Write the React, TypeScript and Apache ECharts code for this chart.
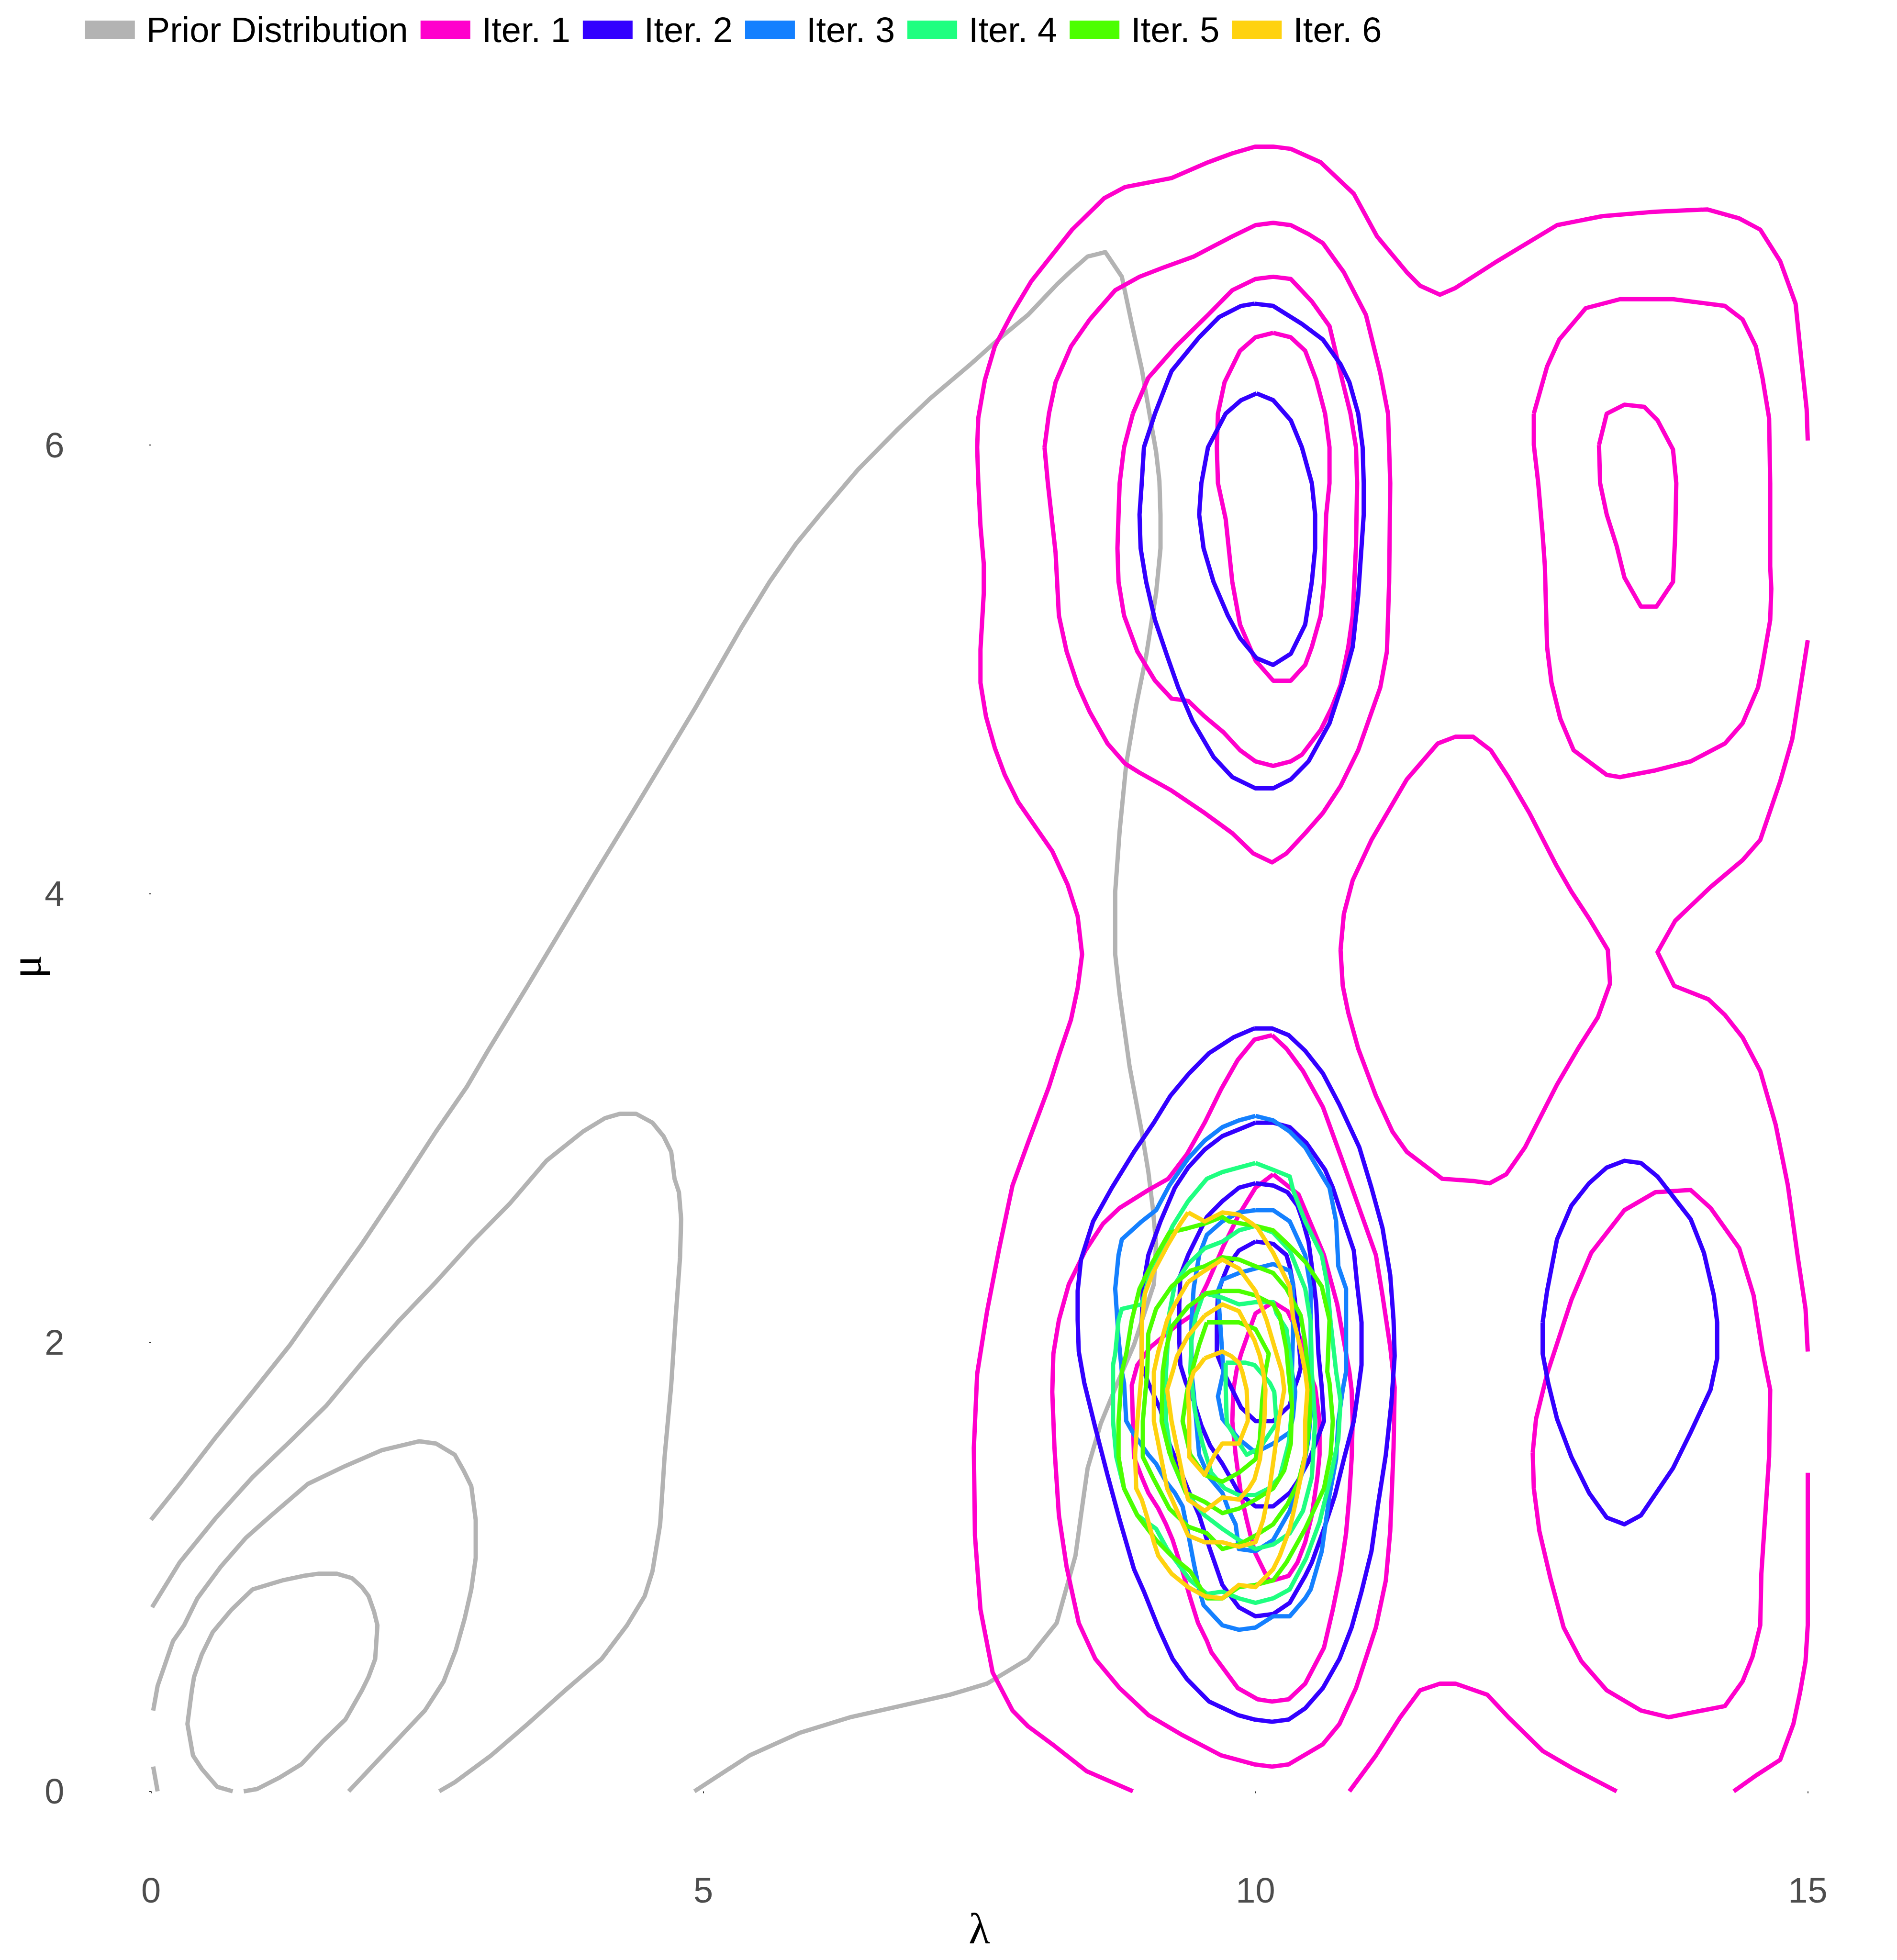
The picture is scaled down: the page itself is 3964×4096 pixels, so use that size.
import React, { useEffect, useRef } from "react";
import * as echarts from "echarts";

type Pt = [number, number];

const xTicks = [0, 5, 10, 15];
const yTicks = [0, 2, 4, 6];
const legendNames = ["Prior Distribution", "Iter. 1", "Iter. 2", "Iter. 3", "Iter. 4", "Iter. 5", "Iter. 6"];
const groupColors = ["#B3B3B3", "#FF00CC", "#3300FF", "#1480FF", "#1FFF80", "#4CFF00", "#FFD20F"];

// ---- Prior distribution contours ----
const prior1: Pt[] = [[0.00,1.21],[0.26,1.37],[0.59,1.58],[0.92,1.78],[1.26,1.99],[1.59,2.22],[1.91,2.44],[2.25,2.69],[2.58,2.94],[2.86,3.14],[3.05,3.30],[3.41,3.59],[4.02,4.09],[4.38,4.38],[4.93,4.83],[5.35,5.19],[5.60,5.39],[5.84,5.56],[6.09,5.71],[6.40,5.89],[6.76,6.07],[7.06,6.21],[7.42,6.36],[7.67,6.47],[7.94,6.58],[8.21,6.72],[8.34,6.78],[8.48,6.84],[8.64,6.86],[8.79,6.75],[8.88,6.54],[8.97,6.34],[9.04,6.14],[9.10,5.97],[9.13,5.84],[9.14,5.69],[9.14,5.54],[9.10,5.34],[9.01,5.06],[8.92,4.84],[8.83,4.58],[8.77,4.28],[8.73,4.01],[8.73,3.73],[8.77,3.55],[8.86,3.23],[8.97,2.94],[9.03,2.76],[9.07,2.60],[9.10,2.44],[9.08,2.26],[8.90,1.99],[8.75,1.82],[8.60,1.64],[8.48,1.44],[8.42,1.23],[8.37,1.05],[8.20,0.75],[7.94,0.59],[7.57,0.48],[7.23,0.43],[6.78,0.38],[6.33,0.33],[5.87,0.26],[5.42,0.16],[4.92,0.00]];
const prior2: Pt[] = [[0.01,0.82],[0.26,1.02],[0.59,1.22],[0.92,1.40],[1.26,1.56],[1.59,1.72],[1.91,1.91],[2.25,2.10],[2.58,2.27],[2.91,2.45],[3.25,2.62],[3.58,2.81],[3.91,2.94],[4.11,3.00],[4.25,3.02],[4.39,3.02],[4.54,2.98],[4.64,2.92],[4.71,2.85],[4.74,2.73],[4.78,2.67],[4.80,2.55],[4.79,2.38],[4.75,2.11],[4.71,1.81],[4.65,1.49],[4.61,1.19],[4.54,0.98],[4.47,0.87],[4.31,0.74],[4.08,0.59],[3.75,0.45],[3.41,0.30],[3.08,0.16],[2.75,0.04],[2.61,0.00]];
const prior3: Pt[] = [[0.02,0.36],[0.06,0.47],[0.13,0.57],[0.20,0.67],[0.30,0.74],[0.42,0.86],[0.63,1.00],[0.86,1.13],[1.09,1.23],[1.42,1.37],[1.76,1.45],[2.09,1.52],[2.43,1.56],[2.58,1.55],[2.75,1.50],[2.83,1.43],[2.90,1.36],[2.94,1.21],[2.94,1.04],[2.90,0.90],[2.84,0.77],[2.76,0.63],[2.65,0.49],[2.48,0.36],[2.25,0.24],[2.02,0.12],[1.79,0.00]];
const prior4: Pt[] = [[0.74,0.00],[0.60,0.02],[0.46,0.10],[0.38,0.16],[0.33,0.30],[0.37,0.45],[0.39,0.51],[0.46,0.61],[0.56,0.71],[0.73,0.81],[0.92,0.90],[1.19,0.94],[1.38,0.96],[1.52,0.97],[1.68,0.97],[1.82,0.95],[1.91,0.91],[1.97,0.87],[2.02,0.80],[2.05,0.74],[2.03,0.59],[1.97,0.51],[1.91,0.45],[1.76,0.32],[1.55,0.22],[1.36,0.12],[1.16,0.06],[0.96,0.01],[0.84,0.00]];
const prior5: Pt[] = [[0.02,0.11],[0.06,0.00]];

// ---- Iteration 1 ----
const iter1a: Pt[] = [[8.89,0.00],[8.47,0.09],[8.16,0.21],[7.94,0.29],[7.80,0.36],[7.62,0.53],[7.51,0.81],[7.46,1.14],[7.45,1.53],[7.48,1.86],[7.57,2.14],[7.68,2.42],[7.80,2.70],[7.94,2.89],[8.13,3.14],[8.22,3.28],[8.33,3.44],[8.39,3.58],[8.43,3.73],[8.39,3.90],[8.30,4.04],[8.16,4.19],[7.85,4.41],[7.73,4.53],[7.64,4.65],[7.56,4.79],[7.51,4.94],[7.51,5.09],[7.54,5.34],[7.54,5.47],[7.51,5.64],[7.49,5.84],[7.48,5.99],[7.49,6.12],[7.55,6.29],[7.64,6.44],[7.80,6.59],[7.97,6.73],[8.34,6.96],[8.63,7.10],[8.82,7.15],[9.24,7.19],[9.57,7.26],[9.79,7.30],[10.00,7.33],[10.16,7.33],[10.32,7.32],[10.59,7.26],[10.89,7.12],[11.10,6.93],[11.37,6.77],[11.49,6.71],[11.67,6.67],[11.81,6.70],[12.19,6.82],[12.73,6.98],[13.14,7.02],[13.62,7.04],[14.09,7.05],[14.38,7.01],[14.57,6.96],[14.75,6.82],[14.89,6.63],[14.94,6.39],[14.99,6.16],[15.00,6.02]];
const iter1b: Pt[] = [[15.00,5.13],[14.94,4.94],[14.86,4.69],[14.75,4.50],[14.57,4.24],[14.41,4.15],[14.12,4.03],[13.80,3.88],[13.64,3.74],[13.79,3.59],[14.10,3.53],[14.25,3.46],[14.41,3.36],[14.57,3.21],[14.71,2.97],[14.82,2.70],[14.91,2.38],[14.98,2.15],[15.00,1.96]];
const iter1c: Pt[] = [[15.00,1.42],[15.00,0.74],[14.98,0.58],[14.93,0.44],[14.87,0.30],[14.75,0.14],[14.53,0.07],[14.33,0.00]];
const iter1d: Pt[] = [[10.85,0.00],[11.09,0.16],[11.31,0.33],[11.49,0.45],[11.67,0.48],[11.81,0.48],[12.10,0.43],[12.29,0.33],[12.60,0.18],[12.88,0.10],[13.27,0.00]];
const iter1e: Pt[] = [[8.09,5.99],[8.13,6.14],[8.19,6.28],[8.33,6.44],[8.50,6.56],[8.73,6.69],[8.95,6.75],[9.16,6.79],[9.44,6.84],[9.79,6.93],[10.00,6.98],[10.16,6.99],[10.32,6.98],[10.48,6.94],[10.61,6.90],[10.80,6.77],[11.00,6.58],[11.13,6.32],[11.20,6.14],[11.22,5.83],[11.21,5.39],[11.19,5.08],[11.13,4.92],[11.03,4.78],[10.93,4.64],[10.77,4.48],[10.61,4.36],[10.45,4.27],[10.28,4.18],[10.15,4.14],[9.98,4.18],[9.79,4.27],[9.54,4.36],[9.24,4.46],[8.95,4.54],[8.82,4.58],[8.66,4.67],[8.50,4.81],[8.39,4.93],[8.29,5.08],[8.22,5.24],[8.19,5.52],[8.12,5.83],[8.09,5.99]];
const iter1f: Pt[] = [[8.89,6.14],[8.81,5.99],[8.77,5.83],[8.76,5.69],[8.75,5.54],[8.76,5.39],[8.81,5.24],[8.93,5.08],[9.09,4.95],[9.24,4.87],[9.39,4.86],[9.54,4.79],[9.71,4.72],[9.86,4.64],[10.00,4.59],[10.16,4.57],[10.32,4.59],[10.42,4.62],[10.59,4.73],[10.69,4.83],[10.77,4.93],[10.84,5.10],[10.88,5.24],[10.91,5.55],[10.92,5.83],[10.91,5.99],[10.86,6.14],[10.79,6.28],[10.67,6.53],[10.51,6.64],[10.32,6.74],[10.16,6.75],[10.00,6.74],[9.79,6.69],[9.57,6.58],[9.28,6.44],[9.03,6.30],[8.89,6.14]];
const iter1g: Pt[] = [[10.16,6.50],[10.32,6.48],[10.45,6.42],[10.55,6.29],[10.63,6.14],[10.67,5.99],[10.67,5.83],[10.64,5.69],[10.62,5.39],[10.59,5.24],[10.51,5.10],[10.45,5.02],[10.32,4.95],[10.16,4.95],[10.00,5.04],[9.86,5.20],[9.79,5.39],[9.73,5.67],[9.66,5.83],[9.65,5.99],[9.66,6.14],[9.72,6.28],[9.86,6.42],[10.00,6.48],[10.16,6.50]];
const iter1h: Pt[] = [[12.52,6.14],[12.64,6.35],[12.75,6.47],[12.99,6.61],[13.30,6.65],[13.78,6.65],[14.25,6.62],[14.41,6.56],[14.53,6.44],[14.59,6.30],[14.65,6.12],[14.66,5.83],[14.66,5.46],[14.67,5.36],[14.66,5.22],[14.59,5.02],[14.55,4.92],[14.41,4.76],[14.25,4.67],[13.94,4.59],[13.62,4.55],[13.30,4.52],[13.18,4.53],[12.88,4.64],[12.76,4.78],[12.68,4.94],[12.64,5.10],[12.62,5.46],[12.60,5.60],[12.56,5.83],[12.52,6.00],[12.52,6.14]];
const iter1i: Pt[] = [[13.11,6.00],[13.18,6.14],[13.34,6.18],[13.52,6.17],[13.64,6.11],[13.78,5.98],[13.81,5.83],[13.80,5.60],[13.78,5.39],[13.63,5.28],[13.49,5.28],[13.34,5.41],[13.27,5.55],[13.18,5.69],[13.12,5.83],[13.11,6.00]];
const iter1j: Pt[] = [[10.77,3.75],[10.80,3.91],[10.88,4.06],[11.05,4.24],[11.37,4.51],[11.65,4.67],[11.81,4.70],[11.97,4.70],[12.13,4.64],[12.29,4.52],[12.48,4.36],[12.72,4.13],[12.86,4.01],[13.02,3.89],[13.19,3.75],[13.21,3.60],[13.10,3.45],[12.92,3.31],[12.73,3.15],[12.44,2.87],[12.27,2.75],[12.12,2.71],[11.97,2.72],[11.69,2.73],[11.37,2.85],[11.24,2.94],[11.09,3.10],[10.93,3.31],[10.84,3.47],[10.79,3.59],[10.77,3.75]];
const iter1k: Pt[] = [[12.51,1.51],[12.54,1.66],[12.64,1.86],[12.86,2.19],[13.04,2.40],[13.34,2.59],[13.62,2.67],[13.94,2.68],[14.12,2.60],[14.38,2.42],[14.51,2.21],[14.59,1.96],[14.66,1.79],[14.65,1.49],[14.58,0.97],[14.57,0.74],[14.50,0.60],[14.41,0.49],[14.25,0.38],[13.94,0.35],[13.74,0.33],[13.49,0.36],[13.18,0.45],[12.95,0.58],[12.79,0.73],[12.67,0.95],[12.57,1.16],[12.52,1.35],[12.51,1.51]];
const iter1l: Pt[] = [[10.15,3.37],[10.28,3.31],[10.43,3.21],[10.61,3.05],[10.78,2.82],[10.96,2.57],[11.09,2.39],[11.15,2.21],[11.22,1.98],[11.26,1.80],[11.25,1.53],[11.22,1.16],[11.18,0.94],[11.09,0.73],[10.91,0.46],[10.76,0.30],[10.61,0.21],[10.30,0.12],[10.15,0.11],[9.99,0.12],[9.69,0.16],[9.34,0.25],[9.03,0.34],[8.77,0.46],[8.55,0.59],[8.40,0.75],[8.29,1.00],[8.22,1.23],[8.18,1.53],[8.16,1.78],[8.17,1.95],[8.22,2.10],[8.31,2.26],[8.46,2.41],[8.62,2.53],[8.77,2.60],[9.03,2.68],[9.21,2.73],[9.38,2.84],[9.54,2.98],[9.69,3.13],[9.84,3.26],[9.99,3.35],[10.15,3.37]];
const iter1m: Pt[] = [[10.16,2.75],[10.39,2.66],[10.62,2.39],[10.74,2.17],[10.85,1.87],[10.87,1.79],[10.88,1.65],[10.87,1.48],[10.85,1.32],[10.82,1.15],[10.77,0.98],[10.70,0.81],[10.62,0.64],[10.45,0.48],[10.30,0.41],[10.15,0.40],[10.02,0.41],[9.84,0.46],[9.60,0.62],[9.56,0.67],[9.48,0.75],[9.41,0.86],[9.34,0.98],[9.25,1.12],[9.19,1.19],[9.12,1.26],[9.03,1.33],[8.97,1.40],[8.90,1.49],[8.89,1.65],[8.88,1.81],[8.93,1.90],[9.05,1.98],[9.27,2.07],[9.42,2.12],[9.56,2.26],[9.71,2.43],[9.85,2.57],[10.00,2.69],[10.16,2.75]];
const iter1n: Pt[] = [[10.16,2.18],[10.29,2.14],[10.36,2.07],[10.43,1.99],[10.48,1.88],[10.54,1.80],[10.58,1.65],[10.58,1.50],[10.56,1.40],[10.51,1.23],[10.45,1.11],[10.38,1.02],[10.30,0.96],[10.16,0.94],[10.12,0.94],[10.00,1.06],[9.97,1.11],[9.92,1.21],[9.87,1.32],[9.82,1.50],[9.79,1.65],[9.80,1.79],[9.83,1.88],[9.87,1.95],[9.97,2.09],[10.00,2.13],[10.16,2.18]];

// ---- Iteration 2 ----
const iter2a: Pt[] = [[9.99,6.63],[9.87,6.62],[9.67,6.57],[9.49,6.48],[9.24,6.33],[9.20,6.28],[9.09,6.14],[8.99,5.99],[8.97,5.83],[8.95,5.69],[8.96,5.54],[9.01,5.39],[9.09,5.22],[9.20,5.06],[9.30,4.92],[9.43,4.77],[9.62,4.61],[9.79,4.52],[10.00,4.47],[10.16,4.47],[10.32,4.51],[10.48,4.59],[10.67,4.76],[10.79,4.94],[10.88,5.10],[10.93,5.33],[10.98,5.69],[10.98,5.83],[10.97,5.99],[10.93,6.14],[10.85,6.28],[10.77,6.36],[10.61,6.47],[10.42,6.54],[10.16,6.62],[9.99,6.63]];
const iter2b: Pt[] = [[10.01,6.23],[9.87,6.20],[9.73,6.14],[9.57,5.99],[9.51,5.83],[9.49,5.69],[9.53,5.54],[9.62,5.39],[9.75,5.24],[9.86,5.14],[10.01,5.05],[10.16,5.02],[10.32,5.07],[10.45,5.20],[10.51,5.39],[10.54,5.54],[10.54,5.69],[10.51,5.83],[10.42,5.99],[10.32,6.11],[10.16,6.20],[10.01,6.23]];
const iter2c: Pt[] = [[12.60,2.09],[12.64,2.23],[12.73,2.46],[12.86,2.61],[13.02,2.71],[13.18,2.78],[13.34,2.81],[13.49,2.80],[13.64,2.74],[13.94,2.55],[14.06,2.40],[14.15,2.21],[14.18,2.09],[14.18,1.93],[14.12,1.79],[13.94,1.60],[13.78,1.44],[13.49,1.23],[13.34,1.19],[13.18,1.22],[13.02,1.33],[12.86,1.49],[12.73,1.66],[12.65,1.82],[12.60,1.95],[12.60,2.09]];
const iter2d: Pt[] = [[9.99,3.40],[10.15,3.40],[10.30,3.37],[10.45,3.30],[10.61,3.20],[10.76,3.06],[10.94,2.87],[11.05,2.69],[11.15,2.51],[11.22,2.30],[11.25,2.10],[11.26,1.94],[11.23,1.73],[11.18,1.50],[11.11,1.28],[11.05,1.07],[10.96,0.89],[10.87,0.73],[10.76,0.59],[10.61,0.46],[10.45,0.37],[10.30,0.32],[10.15,0.31],[9.99,0.32],[9.84,0.34],[9.58,0.40],[9.38,0.50],[9.25,0.59],[9.12,0.73],[8.99,0.89],[8.90,0.99],[8.77,1.21],[8.66,1.41],[8.55,1.62],[8.45,1.82],[8.40,1.96],[8.39,2.10],[8.39,2.23],[8.42,2.37],[8.53,2.54],[8.70,2.69],[8.90,2.85],[9.08,2.98],[9.23,3.10],[9.40,3.20],[9.58,3.29],[9.80,3.36],[9.99,3.40]];
const iter2e: Pt[] = [[10.00,2.98],[10.16,2.98],[10.31,2.96],[10.46,2.89],[10.63,2.77],[10.70,2.69],[10.80,2.54],[10.89,2.41],[10.92,2.26],[10.96,2.09],[10.96,1.90],[10.93,1.79],[10.89,1.65],[10.80,1.48],[10.72,1.32],[10.62,1.17],[10.51,1.02],[10.45,0.96],[10.31,0.84],[10.16,0.79],[10.00,0.78],[9.85,0.82],[9.70,0.92],[9.58,1.09],[9.49,1.23],[9.41,1.32],[9.22,1.55],[9.14,1.70],[9.03,1.82],[8.97,1.90],[8.97,2.09],[8.98,2.24],[9.03,2.39],[9.14,2.54],[9.27,2.69],[9.39,2.78],[9.54,2.86],[9.70,2.92],[9.85,2.95],[10.00,2.98]];
const iter2f: Pt[] = [[10.00,2.71],[10.16,2.70],[10.29,2.67],[10.38,2.61],[10.43,2.54],[10.48,2.45],[10.51,2.34],[10.55,2.17],[10.57,1.95],[10.60,1.80],[10.62,1.65],[10.56,1.57],[10.48,1.47],[10.38,1.38],[10.31,1.33],[10.16,1.27],[10.00,1.27],[9.85,1.33],[9.70,1.46],[9.59,1.54],[9.51,1.63],[9.44,1.74],[9.37,1.82],[9.32,1.90],[9.31,2.01],[9.31,2.17],[9.32,2.30],[9.39,2.39],[9.47,2.47],[9.56,2.56],[9.70,2.63],[9.85,2.69],[10.00,2.71]];
const iter2g: Pt[] = [[10.00,2.45],[10.16,2.44],[10.28,2.39],[10.31,2.34],[10.34,2.26],[10.38,2.09],[10.41,1.89],[10.39,1.85],[10.34,1.78],[10.31,1.72],[10.16,1.65],[10.00,1.65],[9.87,1.71],[9.73,1.85],[9.65,1.95],[9.65,2.09],[9.66,2.22],[9.70,2.28],[9.75,2.34],[9.82,2.39],[9.85,2.41],[10.00,2.45]];

// ---- Iteration 3 ----
const iter3a: Pt[] = [[10.00,3.01],[10.16,2.99],[10.31,2.94],[10.45,2.87],[10.62,2.73],[10.67,2.69],[10.73,2.54],[10.75,2.34],[10.82,2.24],[10.82,1.87],[10.79,1.79],[10.75,1.65],[10.73,1.48],[10.67,1.32],[10.60,1.07],[10.50,0.90],[10.45,0.86],[10.31,0.78],[10.16,0.78],[10.00,0.73],[9.85,0.72],[9.70,0.74],[9.53,0.83],[9.49,0.90],[9.44,1.02],[9.39,1.15],[9.34,1.27],[9.27,1.33],[9.19,1.38],[9.10,1.46],[9.03,1.50],[8.90,1.59],[8.83,1.65],[8.81,1.82],[8.79,1.87],[8.76,2.02],[8.73,2.24],[8.76,2.39],[8.79,2.46],[8.97,2.54],[9.10,2.59],[9.22,2.70],[9.39,2.82],[9.54,2.90],[9.70,2.96],[9.85,2.99],[10.00,3.01]];
const iter3b: Pt[] = [[10.00,2.59],[10.16,2.59],[10.31,2.54],[10.45,2.39],[10.50,2.24],[10.50,1.87],[10.51,1.74],[10.48,1.57],[10.43,1.43],[10.31,1.25],[10.16,1.12],[10.00,1.07],[9.85,1.08],[9.82,1.19],[9.76,1.25],[9.70,1.33],[9.58,1.40],[9.49,1.50],[9.44,1.78],[9.42,1.87],[9.42,2.09],[9.44,2.24],[9.49,2.39],[9.56,2.48],[9.70,2.54],[9.85,2.58],[10.00,2.59]];
const iter3c: Pt[] = [[10.00,2.33],[10.16,2.35],[10.31,2.32],[10.34,2.26],[10.34,2.06],[10.33,1.87],[10.36,1.78],[10.34,1.67],[10.31,1.60],[10.16,1.55],[10.00,1.51],[9.85,1.57],[9.70,1.66],[9.66,1.76],[9.71,1.87],[9.68,2.09],[9.66,2.23],[9.70,2.28],[9.85,2.31],[10.00,2.33]];

// ---- Iteration 4 ----
const iter4a: Pt[] = [[10.00,2.80],[10.16,2.77],[10.31,2.74],[10.34,2.68],[10.45,2.54],[10.60,2.39],[10.65,2.26],[10.68,2.09],[10.73,1.87],[10.77,1.74],[10.75,1.57],[10.68,1.40],[10.58,1.20],[10.46,1.04],[10.31,0.90],[10.16,0.86],[10.00,0.84],[9.85,0.86],[9.70,0.89],[9.56,0.88],[9.41,0.94],[9.20,1.08],[9.10,1.17],[8.93,1.23],[8.81,1.35],[8.74,1.49],[8.71,1.65],[8.71,1.90],[8.73,1.95],[8.76,2.10],[8.79,2.15],[8.97,2.17],[9.03,2.28],[9.15,2.41],[9.25,2.52],[9.39,2.63],[9.56,2.73],[9.70,2.76],[9.85,2.78],[10.00,2.80]];
const iter4b: Pt[] = [[10.00,2.52],[10.16,2.49],[10.31,2.41],[10.45,2.24],[10.50,2.09],[10.51,1.87],[10.54,1.65],[10.51,1.40],[10.43,1.25],[10.31,1.15],[10.16,1.10],[10.00,1.08],[9.85,1.12],[9.70,1.17],[9.54,1.23],[9.37,1.33],[9.24,1.48],[9.19,1.65],[9.19,1.87],[9.22,2.13],[9.27,2.26],[9.39,2.35],[9.54,2.42],[9.70,2.45],[9.85,2.50],[10.00,2.52]];
const iter4c: Pt[] = [[9.53,2.22],[9.70,2.20],[9.85,2.17],[10.00,2.18],[10.16,2.18],[10.19,2.13],[10.28,2.06],[10.33,1.87],[10.33,1.70],[10.30,1.55],[10.22,1.40],[10.12,1.35],[10.00,1.32],[9.85,1.32],[9.72,1.35],[9.60,1.42],[9.52,1.55],[9.45,1.70],[9.41,1.87],[9.42,2.01],[9.46,2.12],[9.53,2.22]];
const iter4d: Pt[] = [[9.73,1.91],[9.91,1.91],[9.99,1.90],[10.13,1.82],[10.17,1.78],[10.19,1.64],[10.04,1.53],[9.92,1.50],[9.84,1.56],[9.74,1.64],[9.73,1.80],[9.73,1.91]];

// ---- Iteration 5 ----
const iter5a: Pt[] = [[10.00,2.52],[10.16,2.50],[10.31,2.43],[10.45,2.36],[10.60,2.25],[10.67,2.10],[10.65,1.87],[10.67,1.82],[10.70,1.65],[10.68,1.50],[10.62,1.35],[10.45,1.17],[10.28,1.02],[10.16,0.94],[10.00,0.92],[9.85,0.91],[9.70,0.86],[9.56,0.86],[9.41,0.98],[9.24,1.05],[9.10,1.12],[8.93,1.23],[8.81,1.35],[8.76,1.49],[8.76,1.65],[8.79,1.87],[8.83,1.95],[8.88,2.10],[8.95,2.24],[9.07,2.36],[9.22,2.49],[9.39,2.51],[9.54,2.53],[9.70,2.56],[9.76,2.54],[10.00,2.52]];
const iter5b: Pt[] = [[10.00,2.34],[10.16,2.31],[10.28,2.24],[10.41,2.12],[10.45,2.00],[10.49,1.80],[10.49,1.65],[10.46,1.52],[10.39,1.38],[10.29,1.28],[10.16,1.19],[10.00,1.14],[9.85,1.10],[9.70,1.08],[9.56,1.15],[9.39,1.18],[9.22,1.26],[9.08,1.39],[8.98,1.49],[8.98,1.65],[9.02,1.87],[9.03,2.04],[9.10,2.15],[9.24,2.25],[9.41,2.32],[9.54,2.34],[9.70,2.38],[9.85,2.37],[10.00,2.34]];
const iter5c: Pt[] = [[10.00,2.21],[10.16,2.17],[10.22,2.12],[10.28,1.97],[10.30,1.86],[10.33,1.72],[10.32,1.55],[10.26,1.43],[10.16,1.35],[10.00,1.30],[9.85,1.26],[9.70,1.24],[9.54,1.29],[9.37,1.33],[9.22,1.51],[9.15,1.65],[9.16,1.87],[9.19,1.97],[9.24,2.07],[9.39,2.16],[9.56,2.22],[9.70,2.23],[9.85,2.23],[10.00,2.21]];
const iter5d: Pt[] = [[9.56,2.09],[9.70,2.09],[9.85,2.09],[10.00,2.06],[10.12,1.95],[10.09,1.87],[10.06,1.74],[10.04,1.57],[10.00,1.48],[9.85,1.42],[9.70,1.38],[9.54,1.41],[9.41,1.50],[9.34,1.65],[9.38,1.78],[9.44,1.90],[9.49,1.99],[9.56,2.09]];

// ---- Iteration 6 ----
const iter6a: Pt[] = [[9.39,2.58],[9.54,2.54],[9.70,2.58],[9.85,2.57],[9.97,2.53],[10.02,2.51],[10.16,2.40],[10.31,2.25],[10.34,2.11],[10.41,1.97],[10.45,1.87],[10.47,1.79],[10.45,1.65],[10.45,1.50],[10.41,1.40],[10.36,1.28],[10.31,1.17],[10.22,1.05],[10.16,0.99],[10.00,0.91],[9.85,0.92],[9.70,0.86],[9.54,0.87],[9.39,0.91],[9.24,0.97],[9.12,1.05],[9.08,1.11],[9.02,1.22],[8.97,1.30],[8.92,1.35],[8.91,1.50],[8.93,1.65],[8.97,1.87],[8.97,2.09],[9.00,2.22],[9.07,2.31],[9.20,2.43],[9.32,2.53],[9.39,2.58]];
const iter6b: Pt[] = [[9.39,2.27],[9.54,2.32],[9.70,2.37],[9.85,2.33],[10.00,2.23],[10.10,2.10],[10.19,1.95],[10.24,1.87],[10.26,1.79],[10.21,1.65],[10.17,1.50],[10.13,1.36],[10.07,1.21],[10.00,1.11],[9.85,1.09],[9.70,1.11],[9.54,1.11],[9.39,1.14],[9.29,1.25],[9.20,1.35],[9.14,1.50],[9.08,1.65],[9.08,1.79],[9.08,1.87],[9.12,1.96],[9.15,2.01],[9.20,2.10],[9.27,2.17],[9.39,2.27]];
const iter6c: Pt[] = [[9.54,2.12],[9.70,2.17],[9.85,2.14],[9.99,2.01],[10.04,1.94],[10.07,1.87],[10.09,1.79],[10.08,1.65],[10.04,1.48],[9.99,1.39],[9.94,1.35],[9.85,1.30],[9.70,1.31],[9.54,1.25],[9.39,1.30],[9.36,1.36],[9.31,1.48],[9.24,1.65],[9.20,1.79],[9.25,1.87],[9.29,1.94],[9.39,2.03],[9.54,2.12]];
const iter6d: Pt[] = [[9.54,1.93],[9.70,1.96],[9.78,1.94],[9.85,1.91],[9.88,1.87],[9.92,1.79],[9.93,1.65],[9.85,1.55],[9.70,1.55],[9.63,1.50],[9.54,1.41],[9.40,1.49],[9.40,1.65],[9.39,1.79],[9.44,1.87],[9.48,1.89],[9.54,1.93]];

const priorContours = [prior1, prior2, prior3, prior4, prior5];
const iter1Contours = [iter1a, iter1b, iter1c, iter1d, iter1e, iter1f, iter1g, iter1h, iter1i, iter1j, iter1k, iter1l, iter1m, iter1n];
const iter2Contours = [iter2a, iter2b, iter2c, iter2d, iter2e, iter2f, iter2g];
const iter3Contours = [iter3a, iter3b, iter3c];
const iter4Contours = [iter4a, iter4b, iter4c, iter4d];
const iter5Contours = [iter5a, iter5b, iter5c, iter5d];
const iter6Contours = [iter6a, iter6b, iter6c, iter6d];
const contourGroups = [priorContours, iter1Contours, iter2Contours, iter3Contours, iter4Contours, iter5Contours, iter6Contours];

export default function App() {
  const ref = useRef<HTMLDivElement>(null);

  useEffect(() => {
    if (!ref.current) return;
    const chart = echarts.init(ref.current, null, { renderer: "svg" });
    const series: any[] = [];
    contourGroups.forEach((group, gi) => {
      group.forEach((line) => {
        series.push({
          type: "line",
          name: legendNames[gi],
          data: line,
          symbol: "none",
          showSymbol: false,
          smooth: false,
          silent: true,
          clip: false,
          emphasis: { disabled: true },
          itemStyle: { color: groupColors[gi] },
          lineStyle: { color: groupColors[gi], width: 9, cap: "butt", join: "round" },
        });
      });
    });

    chart.setOption({
      animation: false,
      backgroundColor: "#ffffff",
      grid: {
        left: 142.4,
        top: 124.7,
        width: 3808.2,
        height: 3791.1,
        containLabel: false,
        outerBoundsMode: "none",
      },
      legend: {
        data: legendNames,
        left: 177.8,
        top: 25.5,
        padding: 0,
        orient: "horizontal",
        icon: "rect",
        itemWidth: 104,
        itemHeight: 39,
        itemGap: 26,
        selectedMode: false,
        textStyle: {
          fontFamily: "Liberation Sans",
          fontSize: 74,
          lineHeight: 74,
          color: "#000000",
          padding: [0, 0, 0, 19],
        },
      },
      xAxis: {
        type: "value",
        min: -0.75,
        max: 15.75,
        name: "λ",
        nameLocation: "middle",
        nameGap: 114,
        nameMoveOverlap: false,
        nameTextStyle: { fontFamily: "Liberation Serif", fontSize: 92, lineHeight: 60, color: "#000000", verticalAlign: "middle" },
        axisLine: { show: false },
        splitLine: { show: false },
        axisTick: { show: true, length: 4, customValues: xTicks, lineStyle: { color: "#333333", width: 2 } },
        axisLabel: {
          customValues: xTicks,
          fontFamily: "Liberation Sans",
          fontSize: 74,
          color: "#4D4D4D",
          margin: 35,
          verticalAlign: "middle",
        },
      },
      yAxis: {
        type: "value",
        min: -0.3675,
        max: 7.7175,
        name: "μ",
        nameLocation: "middle",
        nameRotate: 90,
        nameGap: 88,
        nameMoveOverlap: false,
        nameTextStyle: { fontFamily: "Liberation Serif", fontSize: 92, lineHeight: 92, color: "#000000", verticalAlign: "middle" },
        axisLine: { show: false },
        splitLine: { show: false },
        axisTick: { show: true, length: 4, customValues: yTicks, lineStyle: { color: "#333333", width: 2 } },
        axisLabel: {
          customValues: yTicks,
          fontFamily: "Liberation Sans",
          fontSize: 74,
          color: "#4D4D4D",
          margin: 8,
        },
      },
      series,
    });

    return () => {
      chart.dispose();
    };
  }, []);

  return (
    <div
      ref={ref}
      style={{ position: "fixed", left: 0, top: 0, width: "3964px", height: "4096px", background: "#ffffff" }}
    />
  );
}
